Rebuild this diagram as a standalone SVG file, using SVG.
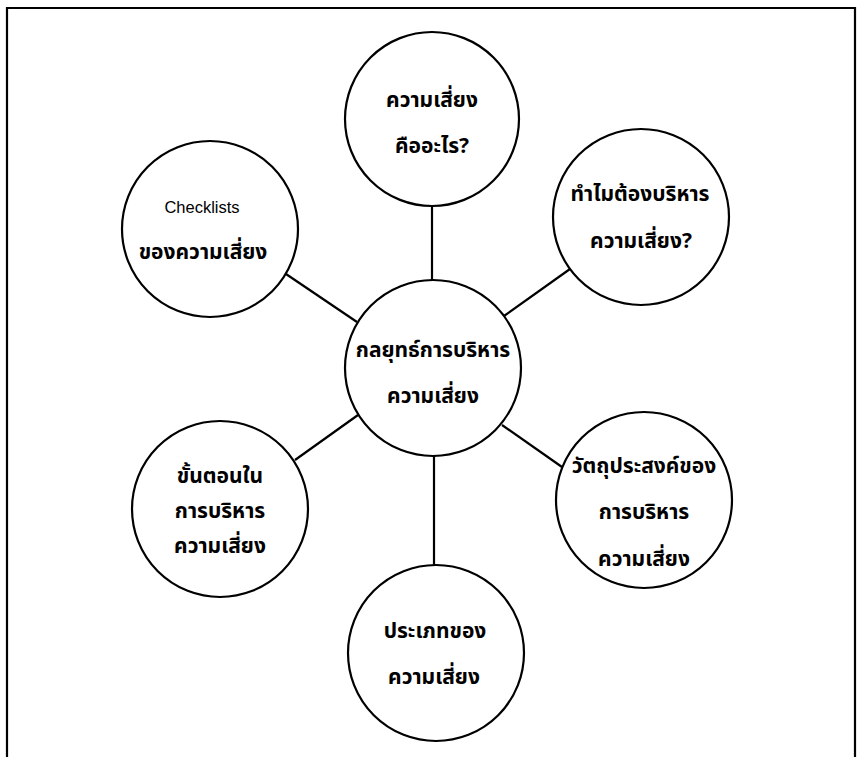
<svg xmlns="http://www.w3.org/2000/svg" width="863" height="757" viewBox="0 0 863 757">
<style>
.node circle{fill:#fff;stroke:#000;stroke-width:2.2}
.conn line{stroke:#000;stroke-width:2.2}
.frame{fill:none;stroke:#000;stroke-width:2.2}
.th{font-family:"Noto Sans Thai","Loma","Garuda","Noto Sans","DejaVu Sans",sans-serif;font-size:21px;font-weight:bold;text-anchor:middle;fill:#000}
.en{font-family:"Liberation Sans",Arial,sans-serif;font-size:16.5px;text-anchor:middle;fill:#000}
</style>
<rect width="863" height="757" fill="#fff"/>
<path class="frame" d="M7,757 V8 H855 V757"/>
<g id="connectors" class="conn">
<line x1="432" y1="206" x2="432" y2="280"/>
<line x1="286" y1="274" x2="357" y2="322"/>
<line x1="570" y1="269" x2="504" y2="316"/>
<line x1="358" y1="415" x2="295" y2="460"/>
<line x1="502" y1="425" x2="562" y2="467"/>
<line x1="434" y1="456" x2="434" y2="565"/>
</g>
<g id="center" class="node">
<circle cx="433" cy="368" r="88"/>
<text class="th" x="433" y="357">กลยุทธ์การบริหาร</text>
<text class="th" x="433" y="403">ความเสี่ยง</text>
</g>
<g id="what" class="node">
<circle cx="432" cy="119" r="87"/>
<text class="th" x="432" y="107">ความเสี่ยง</text>
<text class="th" x="432" y="153">คืออะไร?</text>
</g>
<g id="checklists" class="node">
<circle cx="210" cy="229" r="88"/>
<text class="en" x="202" y="213">Checklists</text>
<text class="th" x="203" y="259">ของความเสี่ยง</text>
</g>
<g id="why" class="node">
<circle cx="641" cy="217" r="88"/>
<text class="th" x="640" y="201">ทำไมต้องบริหาร</text>
<text class="th" x="641" y="248">ความเสี่ยง?</text>
</g>
<g id="steps" class="node">
<circle cx="220" cy="509" r="88"/>
<text class="th" x="220" y="483">ขั้นตอนใน</text>
<text class="th" x="220" y="518">การบริหาร</text>
<text class="th" x="220" y="553">ความเสี่ยง</text>
</g>
<g id="objectives" class="node">
<circle cx="644" cy="500" r="88"/>
<text class="th" x="644" y="473">วัตถุประสงค์ของ</text>
<text class="th" x="644" y="519">การบริหาร</text>
<text class="th" x="644" y="566">ความเสี่ยง</text>
</g>
<g id="types" class="node">
<circle cx="436" cy="653" r="88"/>
<text class="th" x="435" y="638">ประเภทของ</text>
<text class="th" x="434" y="684">ความเสี่ยง</text>
</g>
</svg>
